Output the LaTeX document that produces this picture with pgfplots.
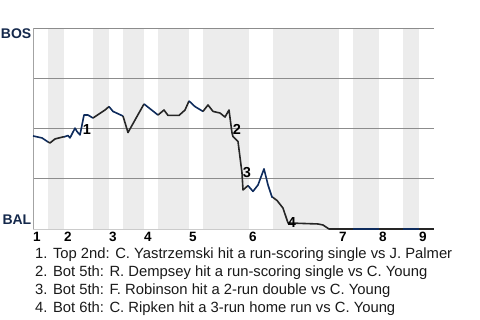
\documentclass[border=0pt]{standalone}
\usepackage{fontspec}
\setmainfont{Liberation Sans}
\usepackage{pgfplots}
\pgfplotsset{compat=1.18}
\definecolor{navy}{HTML}{0E2B5C}
\definecolor{teamnavy}{HTML}{14284B}
\definecolor{dark}{HTML}{262626}
\definecolor{band}{HTML}{ECECEC}
\definecolor{gridc}{HTML}{8C8C8C}
\begin{document}
\begin{tikzpicture}
\begin{axis}[set layers,
  at={(33pt,91pt)}, anchor=south west,
  width=401pt, height=201pt, scale only axis,
  xmin=0, xmax=401, ymin=0, ymax=100,
  axis x line*=bottom, axis y line*=left,
  x axis line style={draw=gridc!45, line width=0.8pt, -},
  y axis line style={draw=gridc!80, line width=0.8pt, -},
  xtick={0,31,76,111,156,216,306,346,386},
  xticklabels={1,2,3,4,5,6,7,8,9},
  xticklabel style={font=\bfseries\fontsize{13.5}{13.5}\selectfont, anchor=north, inner sep=0pt, xshift=4pt, yshift=-3pt},
  ytick={25,50,75,100}, yticklabels={},
  ymajorgrids, major grid style={draw=gridc, line width=0.8pt},
  major tick length=0pt,
  /pgf/number format/assume math mode=true,
  clip=false,
]
% half-inning bands (bottom halves)
\begin{pgfonlayer}{axis background}
\fill[band] (axis cs:15,0) rectangle (axis cs:31,100);
\fill[band] (axis cs:60,0) rectangle (axis cs:76,100);
\fill[band] (axis cs:90,0) rectangle (axis cs:111,100);
\fill[band] (axis cs:125,0) rectangle (axis cs:156,100);
\fill[band] (axis cs:170,0) rectangle (axis cs:216,100);
\fill[band] (axis cs:240,0) rectangle (axis cs:306,100);
\fill[band] (axis cs:320,0) rectangle (axis cs:346,100);
\fill[band] (axis cs:370,0) rectangle (axis cs:386,100);
\end{pgfonlayer}
% win probability line
\pgfplotsset{every axis plot/.append style={line width=1.6pt, line join=round}}
\addplot[navy] coordinates {(0,46.3)(9,45.3)(15,43.3)};
\addplot[dark] coordinates {(15,43.3)(17,42.8)(22,44.8)(30,45.8)(31,45.8)};
\addplot[navy] coordinates {(31,45.8)(35,46.5)(37,45.3)(42,50.2)(44,48.5)(47,46.8)(51,56.7)(55,56.7)(60,55.2)};
\addplot[dark] coordinates {(60,55.2)(72,59.2)(76,60.9)};
\addplot[navy] coordinates {(76,60.9)(80,58.5)(90,56.2)};
\addplot[dark] coordinates {(90,56.2)(95,48.0)(111,62.2)};
\addplot[navy] coordinates {(111,62.2)(125,56.7)};
\addplot[dark] coordinates {(125,56.7)(131,59.2)(135,56.5)(146,56.5)(152,59.2)(156,63.7)};
\addplot[navy] coordinates {(156,63.7)(162,60.9)(170,58.5)};
\addplot[dark] coordinates {(170,58.5)(175,61.7)(180,58.5)(187,57.7)(192,55.7)(196,59.2)(199,47.8)(200,46.0)(205,43.5)(209,27.9)(210,19.4)(215,21.6)};
\addplot[navy] coordinates {(215,21.6)(220,18.7)(225,21.9)(231,29.9)(235,21.9)(239,15.9)(240,15.7)};
\addplot[dark] coordinates {(240,15.7)(244,14.2)(250,10.4)(255,3.0)(285,2.5)(290,2.0)(296,0)(306,0)(320,0)};
\addplot[navy] coordinates {(320,0)(346,0)};
\addplot[dark] coordinates {(346,0)(370,0)};
\addplot[navy] coordinates {(370,0)(386,0)};
\addplot[dark] coordinates {(386,0)(401,0)};
% event labels
\node[font=\bfseries\fontsize{14.5}{14.5}\selectfont, inner sep=0pt] at (axis cs:54,49.3) {1};
\node[font=\bfseries\fontsize{14.5}{14.5}\selectfont, inner sep=0pt] at (axis cs:204,49.3) {2};
\node[font=\bfseries\fontsize{14.5}{14.5}\selectfont, inner sep=0pt] at (axis cs:214,27.9) {3};
\node[font=\bfseries\fontsize{14.5}{14.5}\selectfont, inner sep=0pt] at (axis cs:259,3.0) {4};
\end{axis}
\path (0pt,0pt) rectangle (480pt,320pt);
\node[anchor=east, inner sep=0pt, text=teamnavy, font=\bfseries\fontsize{14}{14}\selectfont] at (31.5pt,286.5pt) {BOS};
\node[anchor=east, inner sep=0pt, text=teamnavy, font=\bfseries\fontsize{14}{14}\selectfont] at (31.5pt,100pt) {BAL};
\begin{scope}[every node/.style={anchor=base west, inner sep=0pt, font=\fontsize{14.8}{14.8}\selectfont, text=black!90}]
\node at (35pt,61.5pt) {1. Top 2nd: C. Yastrzemski hit a run-scoring single vs J. Palmer};
\node at (35pt,43.6pt) {2. Bot 5th: R. Dempsey hit a run-scoring single vs C. Young};
\node at (35pt,25.7pt) {3. Bot 5th: F. Robinson hit a 2-run double vs C. Young};
\node at (35pt,7.8pt) {4. Bot 6th: C. Ripken hit a 3-run home run vs C. Young};
\end{scope}
\end{tikzpicture}
\end{document}
